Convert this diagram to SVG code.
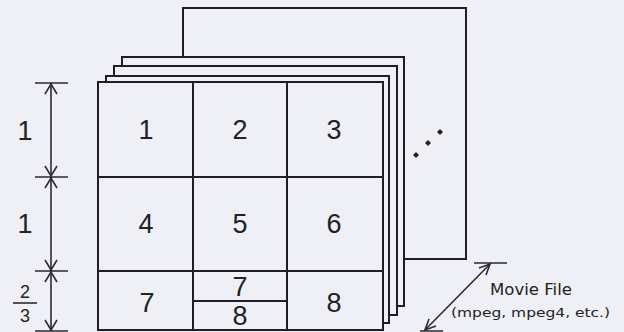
<svg xmlns="http://www.w3.org/2000/svg" width="624" height="332" viewBox="0 0 624 332">
<style>
.fr{fill:#eff0f6;stroke:#1e1e24;stroke-width:2}
.ln{stroke:#1e1e24;stroke-width:2;fill:none}
.th{stroke:#2a2a30;stroke-width:1.6;fill:none}
.big{font-family:"Liberation Sans",Arial,sans-serif;font-size:27px;fill:#222;text-anchor:middle}
.sm{font-family:"Liberation Sans",Arial,sans-serif;font-size:18px;fill:#222;text-anchor:middle}
.lbl{font-family:"DejaVu Sans","Liberation Sans",sans-serif;fill:#222}
</style>
<rect width="624" height="332" fill="#eff0f6"/>
<g id="frames">
<rect id="frame-back" class="fr" x="183" y="8" width="283" height="251"/>
<rect id="frame-4" class="fr" x="122" y="57" width="282" height="249"/>
<rect id="frame-3" class="fr" x="114" y="66" width="283" height="249"/>
<rect id="frame-2" class="fr" x="106" y="76" width="283" height="247"/>
<rect id="frame-front" class="fr" x="98" y="82" width="285" height="248"/>
</g>
<g id="grid">
<path class="ln" d="M193 82V330M287 82V330M98 177H383M98 271H383M193 301H287"/>
</g>
<g id="cells">
<g id="c1"><text class="big" x="146" y="139">1</text></g>
<g id="c2"><text class="big" x="240" y="139">2</text></g>
<g id="c3"><text class="big" x="334" y="139">3</text></g>
<g id="c4"><text class="big" x="146" y="233">4</text></g>
<g id="c5"><text class="big" x="240" y="233">5</text></g>
<g id="c6"><text class="big" x="334" y="233">6</text></g>
<g id="c7"><text class="big" x="147" y="312">7</text></g>
<g id="c78"><text class="big" x="240" y="296" font-size="24">7</text><text class="big" x="240" y="325" font-size="24">8</text></g>
<g id="c8"><text class="big" x="334" y="312">8</text></g>
</g>
<g id="dots" fill="#222">
<path d="M416 152l3 3-3 3-3-3z"/>
<path d="M428 140l3 3-3 3-3-3z"/>
<path d="M440 129l3 3-3 3-3-3z"/>
</g>
<g id="connectors">
<path class="th" d="M35 83H68M35 177H68M35 271H68M35 331H68"/>
<path class="th" d="M51 83V331"/>
<path class="th" d="M45 94L51 84L57 94M45 166L51 176L57 166M45 188L51 178L57 188M45 260L51 270L57 260M45 282L51 272L57 282M45 320L51 330L57 320"/>
<path class="th" d="M474 263H507M420 331H443M425 330L490 264"/>
<path class="th" d="M479 268L490 264L486 275M429 319L425 330L436 326"/>
</g>
<g id="dims">
<text class="big" x="25" y="140">1</text>
<text class="big" x="25" y="233">1</text>
<text class="sm" x="25" y="298">2</text>
<path class="th" d="M13 303H37"/>
<text class="sm" x="25" y="322">3</text>
</g>
<g id="movie-label">
<text class="lbl" x="490" y="295" font-size="15" textLength="82" lengthAdjust="spacingAndGlyphs">Movie File</text>
<text class="lbl" x="451" y="317" font-size="13" textLength="159" lengthAdjust="spacingAndGlyphs">(mpeg, mpeg4, etc.)</text>
</g>
</svg>
